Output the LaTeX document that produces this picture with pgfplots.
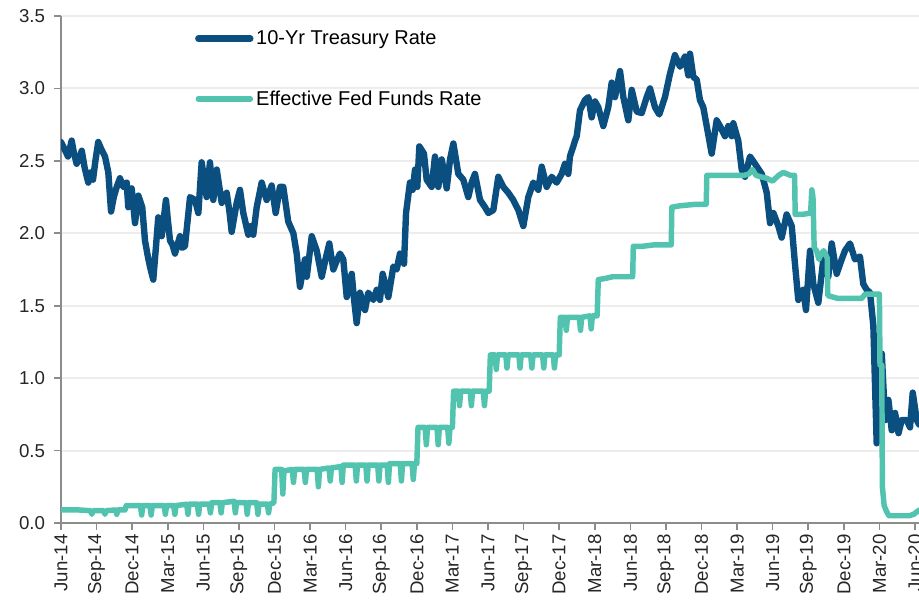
\documentclass[border=0pt]{standalone}
\usepackage{pgfplots}
\pgfplotsset{compat=1.18}
\usepackage{fontspec}
\setmainfont{Liberation Sans}
\definecolor{tblue}{HTML}{0A4F80}
\definecolor{tteal}{HTML}{52C3AE}
\definecolor{gridc}{HTML}{EDEDED}
\definecolor{axc}{HTML}{8C8C8C}
\begin{document}
\begin{tikzpicture}
\begin{axis}[
  scale only axis, width=643.5pt, height=380.25pt,
  at={(0pt,0pt)}, anchor=south west,
  xmin=0, xmax=72.34, ymin=0, ymax=3.5,
  axis lines*=left,
  axis line style={draw=axc, line width=1.4pt, -},
  tick align=outside, major tick length=5pt,
  tick style={draw=axc, line width=1.2pt},
  ymajorgrids, grid style={draw=gridc, line width=1.5pt},
  xtick={0,3,6,9,12,15,18,21,24,27,30,33,36,39,42,45,48,51,54,57,60,63,66,69,72},
  xticklabels={Jun-14,Sep-14,Dec-14,Mar-15,Jun-15,Sep-15,Dec-15,Mar-16,Jun-16,Sep-16,Dec-16,Mar-17,Jun-17,Sep-17,Dec-17,Mar-18,Jun-18,Sep-18,Dec-18,Mar-19,Jun-19,Sep-19,Dec-19,Mar-20,Jun-20},
  ytick={0,0.5,1,1.5,2,2.5,3,3.5},
  /pgf/number format/assume math mode=true,
  yticklabel style={/pgf/number format/fixed, /pgf/number format/fixed zerofill, /pgf/number format/precision=1, xshift=-3.5pt},
  ticklabel style={font=\fontsize{14pt}{16pt}\selectfont, text=black!85},
  xticklabel style={rotate=90, anchor=east},
  legend style={at={(0.156,0.977)}, anchor=north west, draw=none, fill=none,
    font=\fontsize{15pt}{17pt}\selectfont, row sep=29pt, inner sep=0pt},
  legend cell align=left,
  legend image code/.code={\draw[#1, line cap=round] (0pt,0pt) -- (39pt,0pt);},
]
\addplot[tblue, line width=4.8pt, line join=round, line cap=round] coordinates {
(0.00,2.63)(0.30,2.58)(0.59,2.53)(0.90,2.64)(1.10,2.55)(1.32,2.48)(1.55,2.52)(1.75,2.57)(2.00,2.45)(2.30,2.35)(2.50,2.42)(2.70,2.37)(2.90,2.50)
(3.14,2.63)(3.40,2.58)(3.71,2.53)(3.99,2.42)(4.22,2.15)(4.45,2.25)(4.70,2.32)(4.97,2.38)(5.25,2.32)(5.54,2.35)(5.67,2.18)(5.96,2.31)
(6.24,2.07)(6.52,2.26)(6.85,2.18)(7.08,1.95)(7.30,1.85)(7.50,1.77)(7.78,1.68)(8.00,1.90)(8.20,2.11)(8.49,1.98)(8.85,2.23)(9.00,2.10)(9.19,1.95)
(9.40,1.92)(9.61,1.86)(10.03,1.98)(10.20,1.90)(10.45,1.91)(10.88,2.25)(11.30,2.23)(11.58,2.14)(11.86,2.49)(12.28,2.25)(12.56,2.49)(12.84,2.23)
(13.13,2.44)(13.55,2.21)(13.97,2.28)(14.20,2.15)(14.39,2.01)(14.81,2.21)(15.09,2.30)(15.37,2.14)(15.79,1.99)(16.00,2.05)(16.21,1.99)(16.50,2.18)
(16.92,2.35)(17.34,2.23)(17.76,2.33)(18.10,2.14)(18.46,2.32)(18.74,2.32)(19.16,2.08)(19.59,2.00)(19.87,1.86)(20.15,1.63)(20.57,1.82)(20.72,1.70)
(21.14,1.98)(21.56,1.88)(21.98,1.70)(22.30,1.82)(22.62,1.93)(22.96,1.75)(23.20,1.80)(23.52,1.86)(23.80,1.82)(24.09,1.56)(24.51,1.72)(24.70,1.55)
(24.93,1.38)(25.21,1.59)(25.63,1.47)(25.91,1.59)(26.33,1.54)(26.62,1.61)(26.89,1.54)(27.12,1.72)(27.60,1.56)(28.02,1.77)(28.30,1.75)(28.58,1.86)
(28.92,1.79)(29.09,2.14)(29.42,2.35)(29.65,2.30)(29.85,2.44)(30.04,2.32)(30.21,2.60)(30.60,2.55)(30.83,2.37)(31.25,2.32)(31.53,2.53)(31.81,2.32)
(32.10,2.51)(32.52,2.31)(32.80,2.51)(33.08,2.62)(33.50,2.41)(33.92,2.37)(34.34,2.25)(34.62,2.35)(34.90,2.41)(35.33,2.23)(35.75,2.18)(36.03,2.14)
(36.45,2.16)(36.87,2.39)(37.29,2.32)(37.71,2.28)(38.13,2.23)(38.56,2.16)(38.98,2.05)(39.40,2.25)(39.82,2.35)(40.24,2.30)(40.53,2.46)(40.95,2.32)
(41.37,2.39)(41.79,2.35)(42.21,2.41)(42.49,2.48)(42.77,2.41)(42.91,2.53)(43.19,2.60)(43.34,2.64)(43.48,2.67)(43.76,2.85)(44.18,2.92)(44.46,2.94)
(44.74,2.80)(45.02,2.91)(45.30,2.87)(45.72,2.74)(46.14,2.87)(46.43,3.04)(46.71,2.94)(47.13,3.12)(47.41,2.94)(47.83,2.78)(48.12,2.99)(48.54,2.84)
(48.96,2.83)(49.38,2.94)(49.66,3.00)(50.08,2.87)(50.44,2.82)(50.92,2.94)(51.34,3.10)(51.76,3.23)(52.19,3.15)(52.61,3.22)(52.89,3.09)(53.03,3.24)
(53.31,3.08)(53.60,3.06)(53.87,2.92)(54.15,2.87)(54.44,2.74)(54.86,2.55)(55.28,2.78)(55.56,2.74)(55.98,2.67)(56.26,2.74)(56.55,2.67)(56.68,2.76)
(57.10,2.64)(57.39,2.44)(57.67,2.39)(58.09,2.53)(58.51,2.48)(59.08,2.41)(59.50,2.28)(59.78,2.07)(60.06,2.14)(60.48,2.05)(60.76,1.97)(61.18,2.13)
(61.61,2.05)(61.88,1.79)(62.16,1.54)(62.58,1.61)(62.81,1.47)(63.15,1.88)(63.43,1.65)(63.85,1.52)(64.27,1.82)(64.69,1.70)(64.98,1.93)(65.40,1.72)
(65.82,1.82)(66.10,1.88)(66.52,1.93)(66.94,1.82)(67.36,1.84)(67.64,1.65)(67.93,1.61)(68.21,1.59)(68.49,1.36)(68.77,0.55)(69.20,1.17)(69.48,0.71)
(69.76,0.85)(70.04,0.64)(70.32,0.76)(70.61,0.62)(70.88,0.71)(71.30,0.71)(71.58,0.66)(71.81,0.90)(72.15,0.71)(72.34,0.68)
};
\addlegendentry{10-Yr Treasury Rate}
\addplot[tteal, line width=4.1pt, line join=round, line cap=round] coordinates {
(0,0.09)(1.5,0.09)(2.5,0.085)(2.6,0.06)(2.7,0.085)(3.6,0.085)(3.7,0.06)(3.8,0.085)(4.6,0.09)(4.7,0.06)(4.8,0.09)(5.4,0.09)(5.5,0.12)
(6.7,0.12)(6.8,0.055)(6.9,0.12)(7.5,0.12)(7.6,0.055)(7.7,0.12)(8.7,0.12)(8.8,0.06)(8.9,0.12)(9.5,0.12)(9.6,0.06)(9.7,0.12)
(10.6,0.13)(10.7,0.06)(10.8,0.13)(11.5,0.13)(11.6,0.06)(11.7,0.13)(12.5,0.13)(12.6,0.07)(12.7,0.14)(13.4,0.14)(13.5,0.07)(13.6,0.14)
(14.6,0.15)(14.7,0.07)(14.8,0.14)(15.6,0.14)(15.7,0.06)(15.8,0.14)(16.5,0.14)(16.6,0.06)(16.7,0.13)(17.4,0.13)(17.5,0.07)(17.6,0.13)
(17.95,0.14)(18.05,0.37)(18.6,0.37)(18.7,0.20)(18.8,0.36)(19.5,0.37)(19.6,0.28)(19.7,0.37)(20.5,0.37)(20.6,0.28)(20.7,0.37)
(21.6,0.37)(21.7,0.25)(21.8,0.37)(22.6,0.38)(22.7,0.29)(22.8,0.38)(23.6,0.39)(23.7,0.28)(23.8,0.40)(24.8,0.40)(24.9,0.29)(25.0,0.40)
(25.7,0.40)(25.8,0.29)(25.9,0.40)(26.7,0.40)(26.8,0.29)(26.9,0.40)(27.5,0.40)(27.6,0.28)(27.7,0.41)(28.6,0.41)(28.7,0.29)(28.8,0.41)
(29.6,0.41)(29.7,0.30)(29.8,0.41)(30.0,0.41)(30.1,0.66)(30.7,0.66)(30.8,0.54)(30.9,0.66)(31.7,0.66)(31.8,0.54)(31.9,0.66)
(32.6,0.66)(32.7,0.55)(32.8,0.66)(33.0,0.66)(33.1,0.91)(33.5,0.91)(33.6,0.81)(33.7,0.91)(34.5,0.91)(34.6,0.81)(34.7,0.91)
(35.6,0.91)(35.7,0.81)(35.8,0.91)(36.1,0.91)(36.2,1.16)(36.6,1.16)(36.7,1.06)(36.8,1.16)(37.5,1.16)(37.6,1.07)(37.7,1.16)
(38.6,1.16)(38.7,1.07)(38.8,1.16)(39.6,1.16)(39.7,1.07)(39.8,1.16)(40.6,1.16)(40.7,1.07)(40.8,1.16)(41.5,1.16)(41.6,1.07)(41.7,1.16)
(42.0,1.16)(42.1,1.42)(42.5,1.42)(42.6,1.33)(42.7,1.42)(43.7,1.42)(43.8,1.33)(43.9,1.42)(44.6,1.43)(44.7,1.34)(44.8,1.43)
(45.2,1.43)(45.3,1.68)(46,1.69)(46.5,1.70)(47.5,1.70)(48.2,1.70)(48.25,1.91)(49,1.91)(50,1.92)(51.45,1.92)(51.5,2.18)(52.2,2.19)
(53.5,2.20)(54.4,2.20)(54.45,2.40)(56,2.40)(57.6,2.40)(58.0,2.41)(58.3,2.44)(58.6,2.40)(59.0,2.39)(59.5,2.38)(60.0,2.36)(60.5,2.40)
(60.9,2.42)(61.5,2.40)(61.85,2.40)(61.9,2.13)(62.5,2.13)(63.2,2.14)(63.3,2.30)(63.4,2.25)(63.5,1.90)(63.7,1.88)(63.9,1.82)(64.1,1.86)
(64.3,1.88)(64.6,1.83)(64.65,1.57)(65.5,1.55)(66.5,1.55)(67.5,1.55)(67.8,1.58)(68.5,1.58)(69.0,1.58)(69.05,1.09)(69.2,1.09)(69.25,0.25)
(69.4,0.12)(69.6,0.08)(69.8,0.05)(71.5,0.05)(71.9,0.06)(72.2,0.08)(72.4,0.09)
};
\addlegendentry{Effective Fed Funds Rate}
\end{axis}
\pgfresetboundingbox
\useasboundingbox (-45.75pt,-57.75pt) rectangle (643.5pt,392.25pt);
\end{tikzpicture}
\end{document}
